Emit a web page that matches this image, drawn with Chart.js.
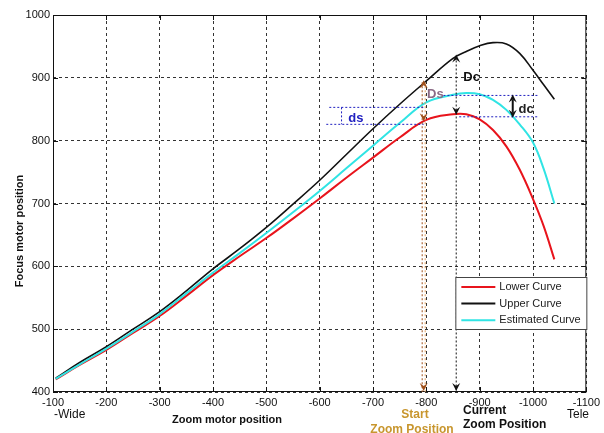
<!DOCTYPE html>
<html>
<head>
<meta charset="utf-8">
<script src="https://cdn.jsdelivr.net/npm/chart.js@4/dist/chart.umd.min.js"></script>
<style>
    html, body { margin: 0; padding: 0; background: #fff; }
    canvas { display: block; }
</style>
</head>
<body>
<canvas id="graficoZoom" width="604" height="433"></canvas>
<script>
// Datos
const zoomPos = [-105, -150, -200, -250, -300, -350, -400, -450, -500, -550, -600, -650, -700, -750, -800, -850, -875, -900, -925, -950, -975, -1000, -1020, -1040];
const lowerCurve = [420, 443, 467, 494, 521, 553, 586, 616, 645, 676, 708, 741, 773, 805, 833, 842, 842, 834, 817, 791, 754, 707, 664, 611];
const upperCurve = [422, 447, 472, 500, 528, 561, 596, 628, 662, 699, 737, 778, 819, 858, 895, 931, 942, 951, 956, 954, 939, 912, 889, 866];
const estimatedCurve = [421, 444, 469, 496, 524, 557, 590, 621, 653, 686, 720, 756, 792, 828, 861, 873, 876, 874, 865, 849, 826, 797, 755, 700];
const xTicks = [-100, -200, -300, -400, -500, -600, -700, -800, -900, -1000, -1100];
const yTicks = [400, 500, 600, 700, 800, 900, 1000];

// Anotaciones (valores en unidades del grafico)
const startPos = -795, startUpper = 893, startLower = 834;
const currentPos = -856, currentUpper = 934, currentLower = 843;
const dsTop = 853, dsBottom = 826, dsFrom = -618, dsMark = -641;
const dcTop = 872, dcBottom = 838, dcPos = -962, dcEnd = -1010;

const FONT = "'Liberation Sans', Arial, sans-serif";

function toPoints(values) {
    return zoomPos.map((x, i) => ({ x: x, y: values[i] }));
}

function dotted(ctx, x1, y1, x2, y2, color, dash) {
    ctx.save();
    ctx.strokeStyle = color;
    ctx.lineWidth = 1;
    ctx.setLineDash(dash || [2, 2]);
    ctx.beginPath();
    ctx.moveTo(x1, y1);
    ctx.lineTo(x2, y2);
    ctx.stroke();
    ctx.restore();
}

// punta de flecha; dir = 1 hacia abajo, -1 hacia arriba
function arrowHead(ctx, x, y, dir, color) {
    ctx.save();
    ctx.fillStyle = color;
    ctx.beginPath();
    ctx.moveTo(x, y);
    ctx.lineTo(x - 4, y - dir * 8);
    ctx.lineTo(x, y - dir * 5);
    ctx.lineTo(x + 4, y - dir * 8);
    ctx.closePath();
    ctx.fill();
    ctx.restore();
}

function text(ctx, str, x, y, font, color, align) {
    ctx.save();
    ctx.font = font;
    ctx.fillStyle = color;
    ctx.textAlign = align || 'center';
    ctx.textBaseline = 'middle';
    ctx.fillText(str, x, y);
    ctx.restore();
}

const frameAndNotes = {
    id: 'frameAndNotes',
    beforeDatasetsDraw(chart) {
        const { ctx, chartArea: a, scales } = chart;
        ctx.save();
        ctx.strokeStyle = '#111';
        ctx.lineWidth = 1;
        ctx.strokeRect(a.left + 0.5, a.top + 0.5, a.right - a.left - 1, a.bottom - a.top - 1);
        // marcas de escala interiores
        ctx.beginPath();
        xTicks.forEach(v => {
            const px = Math.round(scales.x.getPixelForValue(v)) + 0.5;
            ctx.moveTo(px, a.bottom); ctx.lineTo(px, a.bottom - 5);
            ctx.moveTo(px, a.top); ctx.lineTo(px, a.top + 5);
        });
        yTicks.forEach(v => {
            const py = Math.round(scales.y.getPixelForValue(v)) + 0.5;
            ctx.moveTo(a.left, py); ctx.lineTo(a.left + 5, py);
            ctx.moveTo(a.right, py); ctx.lineTo(a.right - 5, py);
        });
        ctx.stroke();
        ctx.restore();
    },
    afterDatasetsDraw(chart) {
        const { ctx, chartArea: a, scales } = chart;
        const X = v => scales.x.getPixelForValue(v);
        const Y = v => scales.y.getPixelForValue(v);
        const brown = '#a0501a';
        const blue = '#2020c0';

        // Linea de posicion inicial
        const sx = X(startPos);
        dotted(ctx, sx - 1.5, Y(startUpper), sx - 1.5, a.bottom, brown);
        dotted(ctx, sx + 1.5, Y(startUpper), sx + 1.5, a.bottom, '#e0a060');
        arrowHead(ctx, sx, Y(startUpper) - 2, -1, brown);
        arrowHead(ctx, sx, Y(startLower) + 2, 1, brown);
        arrowHead(ctx, sx, a.bottom - 1, 1, brown);

        // Linea de posicion actual
        const cx = X(currentPos);
        dotted(ctx, cx, Y(currentUpper), cx, a.bottom, '#111');
        arrowHead(ctx, cx, Y(currentUpper) - 2, -1, '#111');
        arrowHead(ctx, cx, Y(currentLower) + 1, 1, '#111');
        arrowHead(ctx, cx, a.bottom - 1, 1, '#111');

        // ds
        dotted(ctx, X(dsFrom), Y(dsTop), sx, Y(dsTop), blue);
        dotted(ctx, X(dsFrom) - 3, Y(dsBottom), sx, Y(dsBottom), blue);
        dotted(ctx, X(dsMark), Y(dsTop), X(dsMark), Y(dsBottom), blue);
        text(ctx, 'ds', X(-668), Y(835), 'bold 13px ' + FONT, blue);

        // dc
        dotted(ctx, X(-832), Y(dcTop), X(dcEnd), Y(dcTop), blue);
        dotted(ctx, cx + 3, Y(dcBottom), X(dcEnd), Y(dcBottom), blue);
        const dx = X(dcPos);
        ctx.save();
        ctx.strokeStyle = '#111';
        ctx.lineWidth = 2;
        ctx.beginPath();
        ctx.moveTo(dx, Y(dcTop) + 4);
        ctx.lineTo(dx, Y(dcBottom) - 4);
        ctx.stroke();
        ctx.restore();
        arrowHead(ctx, dx, Y(dcTop) - 1, -1, '#111');
        arrowHead(ctx, dx, Y(dcBottom) + 1, 1, '#111');
        text(ctx, 'dc', X(-987), Y(849), 'bold 13px ' + FONT, '#222');

        text(ctx, 'Ds', X(-817), Y(873), 'bold 13px ' + FONT, '#8a6a85');
        text(ctx, 'Dc', X(-885), Y(900), 'bold 13px ' + FONT, '#111');

        // Leyenda
        const lx = a.right - 131, ly = a.bottom - 115;
        ctx.save();
        ctx.fillStyle = '#fff';
        ctx.fillRect(lx, ly, 132, 53);
        ctx.strokeStyle = '#444';
        ctx.lineWidth = 1;
        ctx.strokeRect(lx + 0.5, ly + 0.5, 131, 52);
        chart.data.datasets.forEach((ds, i) => {
            const ry = ly + 10 + i * 16.6;
            ctx.strokeStyle = ds.borderColor;
            ctx.lineWidth = 2;
            ctx.beginPath();
            ctx.moveTo(lx + 6, ry);
            ctx.lineTo(lx + 40, ry);
            ctx.stroke();
            text(ctx, ds.label, lx + 44, ry, '11px ' + FONT, '#222', 'left');
        });
        ctx.restore();
    },
    afterDraw(chart) {
        const { ctx, chartArea: a } = chart;
        const gold = '#c8962e';
        text(ctx, '-Wide', a.left + 1, 415, '12px ' + FONT, '#111', 'left');
        text(ctx, 'Zoom motor position', 227, 420, 'bold 11px ' + FONT, '#111');
        text(ctx, 'Start', 415, 415, 'bold 12px ' + FONT, gold);
        text(ctx, 'Zoom Position', 412, 430, 'bold 12px ' + FONT, gold);
        text(ctx, 'Current', 463, 411, 'bold 12px ' + FONT, '#111', 'left');
        text(ctx, 'Zoom Position', 463, 425, 'bold 12px ' + FONT, '#111', 'left');
        text(ctx, 'Tele', 578, 415, '12px ' + FONT, '#111');

        ctx.save();
        ctx.translate(20, 231);
        ctx.rotate(-Math.PI / 2);
        text(ctx, 'Focus motor position', 0, 0, 'bold 11px ' + FONT, '#111');
        ctx.restore();
    }
};

const ctx = document.getElementById('graficoZoom').getContext('2d');

new Chart(ctx, {
    type: 'line',
    data: {
        datasets: [
            {
                label: 'Lower Curve',
                data: toPoints(lowerCurve),
                borderColor: '#e8141c',
                borderWidth: 2,
                order: 2
            },
            {
                label: 'Upper Curve',
                data: toPoints(upperCurve),
                borderColor: '#111111',
                borderWidth: 1.6,
                order: 1
            },
            {
                label: 'Estimated Curve',
                data: toPoints(estimatedCurve),
                borderColor: '#30e4e4',
                borderWidth: 2,
                order: 0
            }
        ]
    },
    options: {
        responsive: false,
        animation: false,
        devicePixelRatio: 1,
        elements: {
            point: { radius: 0 },
            line: { tension: 0.4, fill: false }
        },
        layout: { padding: { left: 0, right: 16, top: 15, bottom: 0 } },
        plugins: {
            legend: { display: false },
            tooltip: { enabled: false }
        },
        scales: {
            x: {
                type: 'linear',
                min: -1100,
                max: -100,
                reverse: true,
                afterFit: s => { s.height = 41; },
                afterBuildTicks: s => { s.ticks = xTicks.map(v => ({ value: v })); },
                ticks: {
                    autoSkip: false,
                    maxRotation: 0,
                    padding: 4,
                    color: '#111',
                    font: { family: FONT, size: 11 },
                    callback: v => String(v)
                },
                grid: { color: '#333', lineWidth: 1, drawTicks: false },
                border: { display: false, dash: [3, 3] }
            },
            y: {
                min: 400,
                max: 1000,
                afterFit: s => { s.width = 53; },
                afterBuildTicks: s => { s.ticks = yTicks.map(v => ({ value: v })); },
                ticks: {
                    padding: 3,
                    color: '#111',
                    font: { family: FONT, size: 11 },
                    callback: v => String(v)
                },
                grid: { color: '#333', lineWidth: 1, drawTicks: false },
                border: { display: false, dash: [3, 3] }
            }
        }
    },
    plugins: [frameAndNotes]
});
</script>
</body>
</html>
